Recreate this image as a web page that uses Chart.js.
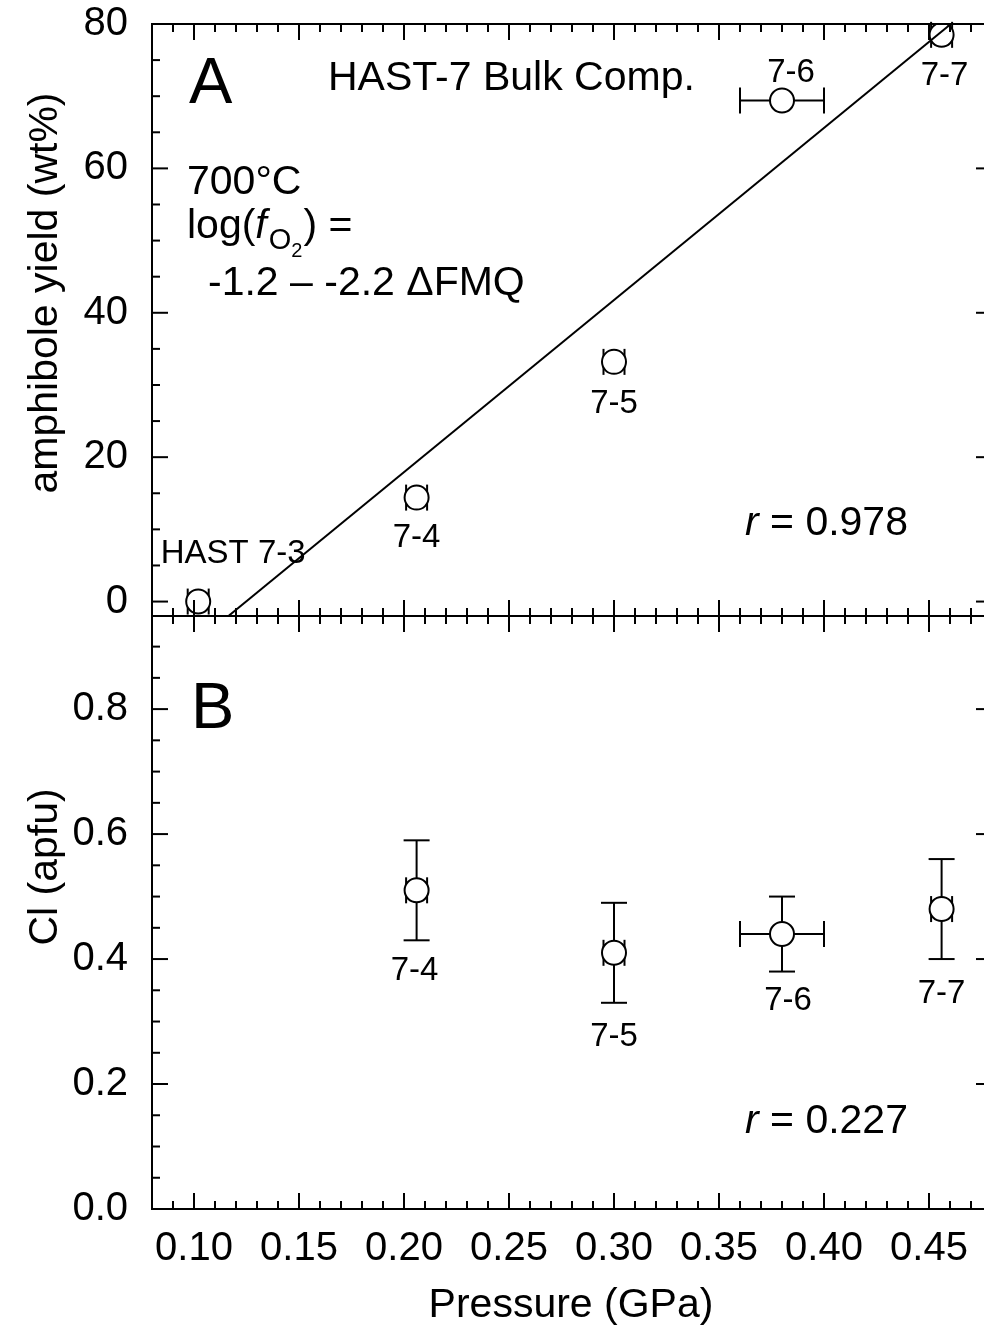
<!DOCTYPE html>
<html>
<head>
<meta charset="utf-8">
<script src="https://cdn.jsdelivr.net/npm/chart.js@4.4.0/dist/chart.umd.min.js"></script>
<style>
  html, body { margin: 0; padding: 0; background: #fff; overflow: hidden; }
  #wrap { position: relative; width: 984px; height: 1331px; overflow: hidden; background: #fff; }
  .box { position: absolute; left: 0; width: 1006px; }
  .box canvas { display: block; width: 1006px; }
</style>
</head>
<body>
<div id="wrap">
  <div class="box" style="top:0;height:640px"><canvas id="chartA" width="1006" height="640" style="height:640px"></canvas></div>
  <div class="box" style="top:596px;height:735px"><canvas id="chartB" width="1006" height="735" style="height:735px"></canvas></div>
</div>
<script>
// panel A: amphibole yield
const namesA = ["HAST 7-3", "7-4", "7-5", "7-6", "7-7"];
const pressureA = [0.102, 0.206, 0.300, 0.380, 0.456];
const pressureErrA = [0.005, 0.005, 0.005, 0.020, 0.005];
const yieldA = [0, 14.4, 33.2, 69.4, 78.5];
const fitPressure = [0.1164, 0.4604];
const fitYield = [-2, 80];

// panel B: Cl (apfu)
const namesB = ["7-4", "7-5", "7-6", "7-7"];
const pressureB = [0.206, 0.300, 0.380, 0.456];
const pressureErrB = [0.005, 0.005, 0.020, 0.005];
const clB = [0.51, 0.41, 0.44, 0.48];
const clErrB = [0.08, 0.08, 0.06, 0.08];

// tick labels
const xTicks = [0.10, 0.15, 0.20, 0.25, 0.30, 0.35, 0.40, 0.45];
const yTicksA = [0, 20, 40, 60, 80];
const yTicksB = [0.0, 0.2, 0.4, 0.6, 0.8];

// label placement relative to each point (px)
const labelPosA = [[35, -39], [0, 49], [0, 51], [9, -19], [3, 50]];
const labelPosB = [[-2, 90], [0, 93], [6, 76], [0, 94]];

const F = "'Liberation Sans', Arial, Helvetica, sans-serif";
const CAP = 13;

function seg(ctx, x1, y1, x2, y2) {
  ctx.beginPath(); ctx.moveTo(x1, y1); ctx.lineTo(x2, y2); ctx.stroke();
}

function drawFrame(chart, xStep, xEvery, yStep, yEvery) {
  const { ctx, chartArea: a, scales: { x, y } } = chart;
  ctx.save();
  ctx.strokeStyle = "#000";
  ctx.lineWidth = 2;
  ctx.strokeRect(a.left, a.top, a.right - a.left, a.bottom - a.top);
  for (let i = Math.ceil(x.min / xStep - 1e-6); i <= Math.floor(x.max / xStep + 1e-6); i++) {
    const px = x.getPixelForValue(i * xStep);
    const len = i % xEvery === 0 ? 16 : 8;
    seg(ctx, px, a.top, px, a.top + len);
    seg(ctx, px, a.bottom, px, a.bottom - len);
  }
  for (let i = Math.ceil(y.min / yStep - 1e-6); i <= Math.floor(y.max / yStep + 1e-6); i++) {
    const py = y.getPixelForValue(i * yStep);
    const len = i % yEvery === 0 ? 16 : 8;
    seg(ctx, a.left, py, a.left + len, py);
    seg(ctx, a.right, py, a.right - len, py);
  }
  ctx.restore();
}

function drawErrors(chart, xs, ys, xErr, yErr) {
  const { ctx, scales: { x, y } } = chart;
  ctx.save();
  ctx.strokeStyle = "#000";
  ctx.lineWidth = 2;
  xs.forEach((xv, i) => {
    const px = x.getPixelForValue(xv), py = y.getPixelForValue(ys[i]);
    if (xErr && xErr[i]) {
      const l = x.getPixelForValue(xv - xErr[i]), r = x.getPixelForValue(xv + xErr[i]);
      seg(ctx, l, py, r, py);
      seg(ctx, l, py - CAP, l, py + CAP);
      seg(ctx, r, py - CAP, r, py + CAP);
    }
    if (yErr && yErr[i]) {
      const t = y.getPixelForValue(ys[i] + yErr[i]), b = y.getPixelForValue(ys[i] - yErr[i]);
      seg(ctx, px, t, px, b);
      seg(ctx, px - CAP, t, px + CAP, t);
      seg(ctx, px - CAP, b, px + CAP, b);
    }
  });
  ctx.restore();
}

function drawLabels(chart, xs, ys, names, pos) {
  const { ctx, scales: { x, y } } = chart;
  ctx.save();
  ctx.fillStyle = "#000";
  ctx.font = "33px " + F;
  ctx.textAlign = "center";
  ctx.textBaseline = "alphabetic";
  xs.forEach((xv, i) => {
    ctx.fillText(names[i], x.getPixelForValue(xv) + pos[i][0], y.getPixelForValue(ys[i]) + pos[i][1]);
  });
  ctx.restore();
}

function rText(ctx, parts, x, y) {
  // parts: [text, font, dy, extra gap]
  let cx = x;
  parts.forEach(p => {
    ctx.font = p[1];
    ctx.fillText(p[0], cx, y + (p[2] || 0));
    cx += ctx.measureText(p[0]).width + (p[3] || 0);
  });
}

function yTitle(ctx, s, bx, cy) {
  ctx.save();
  ctx.translate(bx, cy);
  ctx.rotate(-Math.PI / 2);
  ctx.font = "41px " + F;
  ctx.textAlign = "center";
  ctx.textBaseline = "alphabetic";
  ctx.fillText(s, 0, 0);
  ctx.restore();
}

function scaleY(min, max, ticks, digits) {
  return {
    type: "linear", min: min, max: max,
    grid: { display: false, drawTicks: false },
    border: { display: false },
    afterFit: s => { s.width = 152; s.paddingTop = 0; s.paddingBottom = 0; },
    afterBuildTicks: s => { s.ticks = ticks.map(v => ({ value: v })); },
    ticks: {
      padding: 24, color: "#000", font: { family: F, size: 40 },
      callback: v => Number(v).toFixed(digits)
    }
  };
}

const annoFont = "41px " + F;

const chartA = new Chart(document.getElementById("chartA"), {
  type: "scatter",
  data: {
    datasets: [
      {
        type: "line",
        data: fitPressure.map((p, i) => ({ x: p, y: fitYield[i] })),
        borderColor: "#000", borderWidth: 2, pointRadius: 0, fill: false
      },
      {
        data: pressureA.map((p, i) => ({ x: p, y: yieldA[i] })),
        pointRadius: 12, pointBackgroundColor: "#fff",
        pointBorderColor: "#000", pointBorderWidth: 2
      }
    ]
  },
  options: {
    responsive: false, animation: false,
    layout: { padding: { top: 24, bottom: 24, left: 0, right: 8 } },
    plugins: { legend: { display: false }, tooltip: { enabled: false } },
    scales: {
      x: { type: "linear", min: 0.08, max: 0.48, display: false },
      y: scaleY(-2, 80, yTicksA, 0)
    }
  },
  plugins: [{
    id: "panelA",
    beforeDatasetsDraw(chart) {
      drawErrors(chart, pressureA, yieldA, pressureErrA, null);
    },
    afterDatasetsDraw(chart) {
      drawFrame(chart, 0.01, 5, 5, 4);
      drawLabels(chart, pressureA, yieldA, namesA, labelPosA);
      const ctx = chart.ctx;
      ctx.save();
      ctx.fillStyle = "#000";
      ctx.textAlign = "left";
      ctx.textBaseline = "alphabetic";
      ctx.font = "65px " + F;
      ctx.fillText("A", 189, 103);
      ctx.font = annoFont;
      ctx.fillText("HAST-7 Bulk Comp.", 328, 90);
      ctx.fillText("700°C", 187, 194);
      rText(ctx, [
        ["log(", annoFont, 0],
        ["f", "italic " + annoFont, 0, 2],
        ["O", "29px " + F, 11],
        ["2", "20px " + F, 19, 1],
        [") =", annoFont, 0]
      ], 187, 238);
      ctx.fillText("-1.2 \u2013 -2.2 \u0394FMQ", 208, 295);
      rText(ctx, [
        ["r", "italic " + annoFont, 0],
        [" = 0.978", annoFont, 0]
      ], 745, 535);
      yTitle(ctx, "amphibole yield (wt%)", 57, 293);
      ctx.restore();
    }
  }]
});

const chartB = new Chart(document.getElementById("chartB"), {
  type: "scatter",
  data: {
    datasets: [
      {
        data: pressureB.map((p, i) => ({ x: p, y: clB[i] })),
        pointRadius: 12, pointBackgroundColor: "#fff",
        pointBorderColor: "#000", pointBorderWidth: 2
      }
    ]
  },
  options: {
    responsive: false, animation: false,
    layout: { padding: { top: 20, bottom: 0, left: 0, right: 8 } },
    plugins: { legend: { display: false }, tooltip: { enabled: false } },
    scales: {
      x: {
        type: "linear", min: 0.08, max: 0.48,
        grid: { display: false, drawTicks: false },
        border: { display: false },
        afterFit: s => { s.height = 122; s.paddingLeft = 0; s.paddingRight = 0; },
        afterBuildTicks: s => { s.ticks = xTicks.map(v => ({ value: v })); },
        ticks: {
          padding: 16, color: "#000", font: { family: F, size: 40 },
          autoSkip: false, maxRotation: 0,
          callback: v => Number(v).toFixed(2)
        }
      },
      y: scaleY(0, 0.949, yTicksB, 1)
    }
  },
  plugins: [{
    id: "panelB",
    beforeDatasetsDraw(chart) {
      drawErrors(chart, pressureB, clB, pressureErrB, clErrB);
    },
    afterDatasetsDraw(chart) {
      drawFrame(chart, 0.01, 5, 0.05, 4);
      drawLabels(chart, pressureB, clB, namesB, labelPosB);
      const ctx = chart.ctx;
      ctx.save();
      ctx.fillStyle = "#000";
      ctx.textAlign = "left";
      ctx.textBaseline = "alphabetic";
      ctx.font = "65px " + F;
      ctx.fillText("B", 191, 728 - 596);
      rText(ctx, [
        ["r", "italic " + annoFont, 0],
        [" = 0.227", annoFont, 0]
      ], 745, 1133 - 596);
      yTitle(ctx, "Cl (apfu)", 57, 867 - 596);
      ctx.font = annoFont;
      ctx.textAlign = "center";
      ctx.fillText("Pressure (GPa)", 571, 1317 - 596);
      ctx.restore();
    }
  }]
});
</script>
</body>
</html>
